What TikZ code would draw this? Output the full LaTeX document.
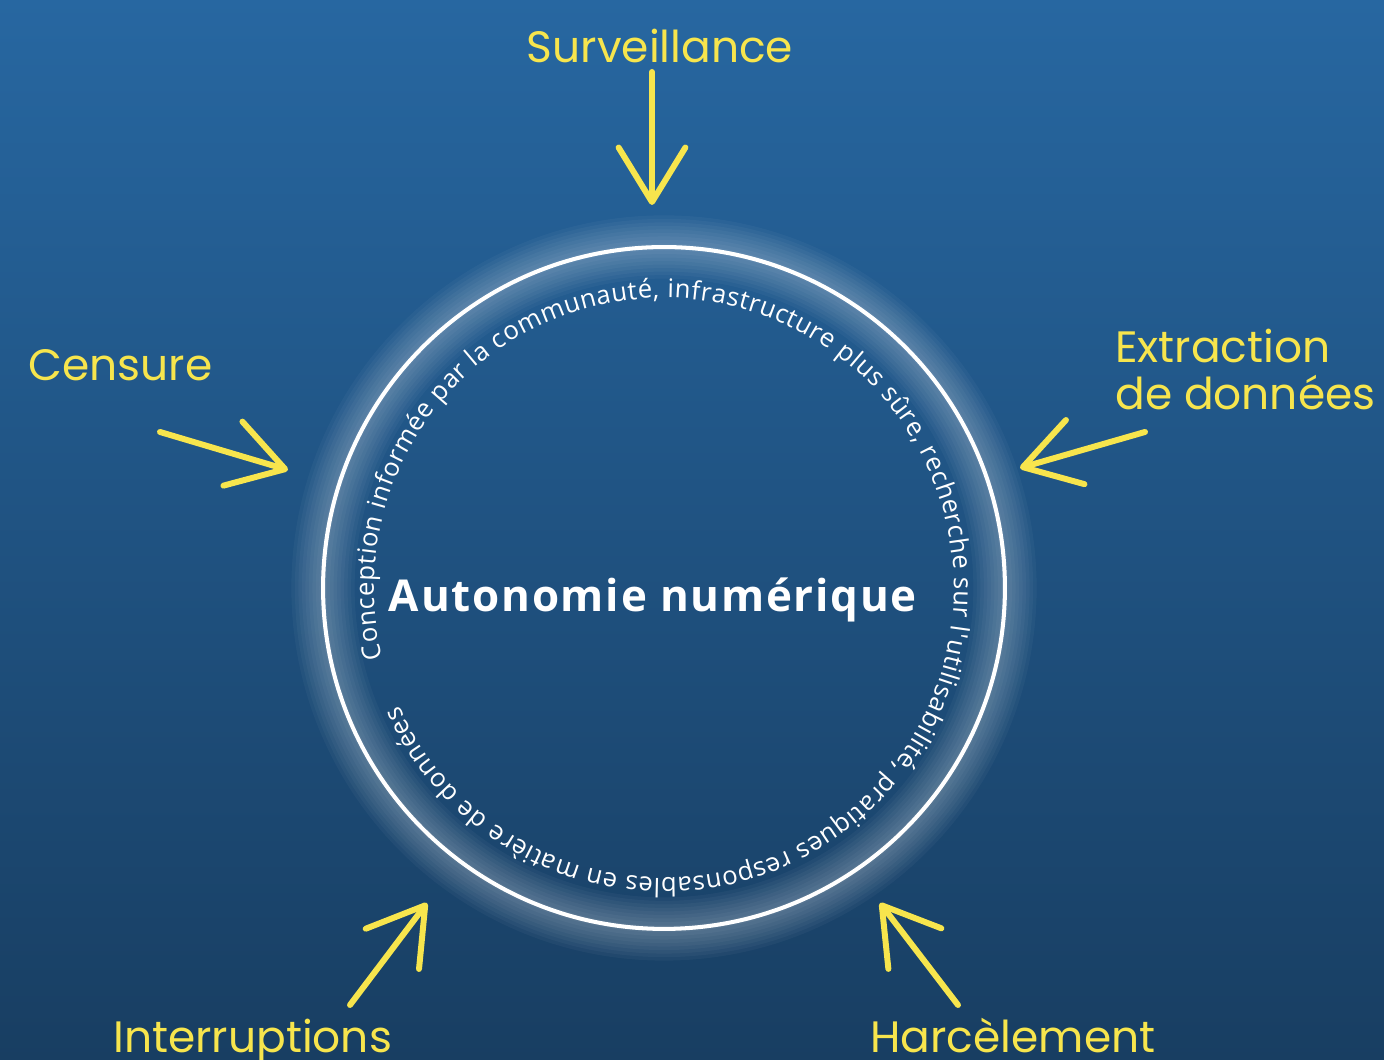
\documentclass[tikz,border=0pt]{standalone}
\usepackage{fontspec}
\usetikzlibrary{arrows.meta,decorations.text}
\newfontfamily\labfont{Poppins}
\newfontfamily\circfont{Open Sans}
\newfontfamily\ctrfont{Open Sans}[LetterSpace=4]
\definecolor{bgtop}{HTML}{2767A1}
\definecolor{bgmid}{HTML}{1C4A76}
\definecolor{bgbot}{HTML}{183E62}
\definecolor{ylw}{HTML}{F7E54D}
\tikzset{
  lab/.style={text=ylw, font=\labfont\fontsize{25pt}{27pt}\selectfont, inner sep=0pt},
  hit/.style={draw=ylw, line width=3.4pt, line cap=round,
    -{Straight Barb[length=31pt, width=38pt, round]}},
}
\begin{document}
\begin{tikzpicture}[x=0.02cm, y=0.02cm]
\useasboundingbox (0,0) rectangle (1384,1060);
\clip (0,0) rectangle (1384,1060);
\shade[top color=bgtop, middle color=bgmid, bottom color=bgbot] (0,0) rectangle (1384,1060);

% ring with soft glow
\coordinate (c) at (664,472);
\foreach \w in {36,32,...,4}{
  \draw[white, line width=\w pt, opacity=0.035] (c) circle[radius=341];
}
\node[circle, draw=white, line width=2.3pt, minimum size=13.64cm, inner sep=0pt] (ring) at (c) {};

% circular text
\path[decorate, decoration={text along path, text color=white,
  text={|\circfont\fontsize{14.6pt}{17pt}\selectfont|Conception informée par la communauté, infrastructure plus sûre, recherche sur l'utilisabilité, pratiques responsables en matière de données},
  text align=fit to path}]
  (c) ++(194:290) arc[start angle=194, end angle=-156, radius=290];

% centre label
\node[text=white, font=\ctrfont\bfseries\fontsize{25pt}{29pt}\selectfont, anchor=base] (core) at (653,448) {Autonomie numérique};

% labels
\node[lab, anchor=base] (surv) at (660,997) {Surveillance};
\node[lab, anchor=base west] (cens) at (28,679) {Censure};
\node[lab, anchor=base west, align=left] (extr) at (1115,650) {Extraction\\de données};
\node[lab, anchor=base west] (intr) at (113,7) {Interruptions};
\node[lab, anchor=base west] (harc) at (870,7) {Harcèlement};

% arrow ends
\coordinate (s1) at (652,988); \coordinate (e1) at (652,855);
\coordinate (s2) at (160,628); \coordinate (e2) at (288,590);
\coordinate (s3) at (1145,628); \coordinate (e3) at (1020,592);
\coordinate (s4) at (350,55); \coordinate (e4) at (427,157);
\coordinate (s5) at (958,55); \coordinate (e5) at (880,157);
\draw[hit] (s1) -- (e1);
\draw[hit] (s2) -- (e2);
\draw[hit] (s3) -- (e3);
\draw[hit] (s4) -- (e4);
\draw[hit] (s5) -- (e5);
\end{tikzpicture}
\end{document}
